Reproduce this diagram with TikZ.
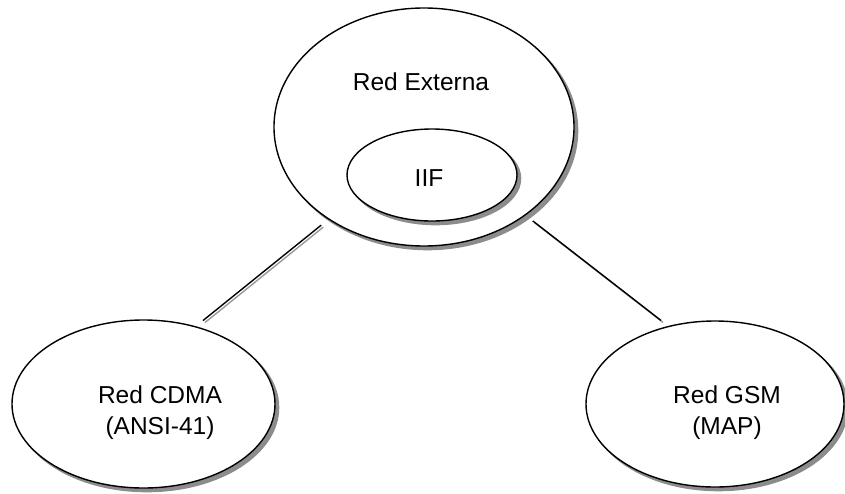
\documentclass[tikz,border=0pt]{standalone}
\usepackage{fontspec}
\setmainfont{Liberation Sans}
\usetikzlibrary{shapes.geometric}

\begin{document}
\begin{tikzpicture}[x=1pt,y=-1pt,
  net/.style={ellipse, draw=black, line width=1.4pt, fill=white, inner sep=0pt},
  netshadow/.style={fill=black!45},
  label/.style={font=\fontsize{24.5}{29}\selectfont, anchor=base, inner sep=0pt},
  link/.style={line width=1.4pt, shorten <=9pt, shorten >=9pt},
  linkshadow/.style={link, draw=black!40}
]
\useasboundingbox (0,0) rectangle (845,493);

% grey shadows below the ellipses, shifted to the lower right
\fill[netshadow] (427.5,130.5) ellipse [x radius=150.8, y radius=119.8];
\fill[netshadow] (147,407.5) ellipse [x radius=132.3, y radius=84.8];
\fill[netshadow] (718.5,407.5) ellipse [x radius=129.8, y radius=83.8];

% network ellipses
\node[net, minimum width=300pt, minimum height=238pt] (ext) at (424,127) {};
\fill[netshadow] (435.5,178.5) ellipse [x radius=85.8, y radius=46.8];
\node[net, minimum width=170pt, minimum height=92pt] (iif) at (432,175) {};
\node[net, minimum width=263pt, minimum height=168pt] (cdma) at (143.5,404) {};
\node[net, minimum width=258pt, minimum height=166pt] (gsm) at (715,404) {};

% connections between the external network and the two access networks
\draw[linkshadow] ([shift={(2,2)}]ext.224.5) -- ([shift={(2,2)}]cdma.56.7);
\draw[linkshadow] ([shift={(2,2)}]ext.319.1) -- ([shift={(2,2)}]gsm.121);
\draw[link] (ext.224.5) -- (cdma.56.7);
\draw[link] (ext.319.1) -- (gsm.121);

% labels
\node[label] (extT) at (421,90) {Red Externa};
\node[label] (iifT) at (429,186) {IIF};
\node[label] (cdmaA) at (160,403) {Red CDMA};
\node[label] (cdmaB) at (160,434) {(ANSI-41)};
\node[label] (gsmA) at (727,403) {Red GSM};
\node[label] (gsmB) at (727,434) {(MAP)};
\end{tikzpicture}
\end{document}
